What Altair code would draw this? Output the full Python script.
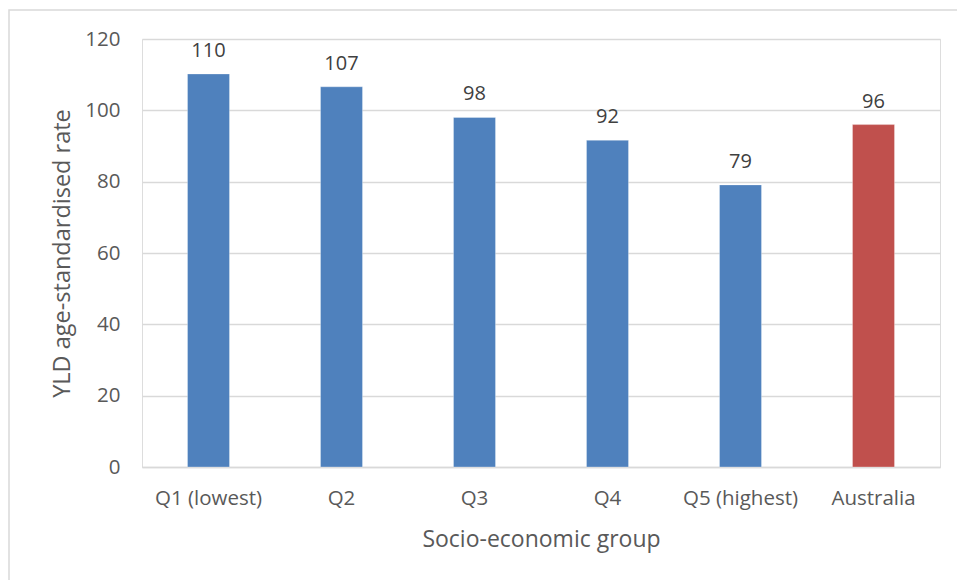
import altair as alt
import pandas as pd

# YLD age-standardised rate by socio-economic group
groups = ["Q1 (lowest)", "Q2", "Q3", "Q4", "Q5 (highest)", "Australia"]
rates = [110.2, 106.6, 98.0, 91.6, 79.1, 96.0]
kinds = ["quintile", "quintile", "quintile", "quintile", "quintile", "national"]

df = pd.DataFrame({"group": groups, "rate": rates, "kind": kinds})

FONT = "Open Sans"
GRID = "#D9D9D9"

x_enc = alt.X(
    "group:N",
    sort=groups,
    scale=alt.Scale(paddingInner=0, paddingOuter=0),
    axis=alt.Axis(
        title="Socio-economic group",
        labelAngle=0,
        labelFont=FONT,
        labelFontSize=20.5,
        labelColor="#595959",
        labelPadding=21,
        titleFont=FONT,
        titleFontSize=23,
        titleFontWeight="normal",
        titleColor="#595959",
        titlePadding=20,
        domain=True,
        domainColor=GRID,
        domainWidth=1.3,
        ticks=False,
    ),
)

y_enc = alt.Y(
    "rate:Q",
    scale=alt.Scale(domain=[0, 120], nice=False),
    axis=alt.Axis(
        title="YLD age-standardised rate",
        values=[0, 20, 40, 60, 80, 100, 120],
        labelFont=FONT,
        labelFontSize=20.5,
        labelColor="#595959",
        labelPadding=22,
        titleFont=FONT,
        titleFontSize=23.5,
        titleFontWeight="normal",
        titleColor="#595959",
        titlePadding=10,
        domain=False,
        ticks=False,
        grid=True,
        gridColor=GRID,
        gridWidth=1.3,
    ),
)

color_enc = alt.Color(
    "kind:N",
    scale=alt.Scale(domain=["quintile", "national"], range=["#4F81BD", "#C0504D"]),
    legend=None,
)

bars = alt.Chart(df).mark_bar(size=42, stroke="#FFFFFF", strokeWidth=0.6, strokeOpacity=0.5).encode(
    x=x_enc, y=y_enc, color=color_enc
)

labels = alt.Chart(df).mark_text(
    font=FONT, fontSize=20, color="#404040", baseline="alphabetic", dy=-17
).encode(
    x=alt.X("group:N", sort=groups),
    y="rate:Q",
    text=alt.Text("rate:Q", format=".0f"),
)

# light frame around the chart area
frame = alt.Chart(df.head(1)).mark_rect(
    fill=None, stroke=GRID, strokeWidth=1.5
).encode(
    x=alt.value(-133), x2=alt.value(900), y=alt.value(-29), y2=alt.value(600)
)

chart = (
    alt.layer(frame, bars, labels)
    .properties(
        width=798,
        height=428,
        padding={"left": 142, "top": 39, "right": 17, "bottom": 113},
        autosize=alt.AutoSizeParams(type="none"),
    )
    .configure_view(stroke=None)
    .configure(background="white")
)

chart.save("out.html", embed_options={"renderer": "svg", "actions": False})
